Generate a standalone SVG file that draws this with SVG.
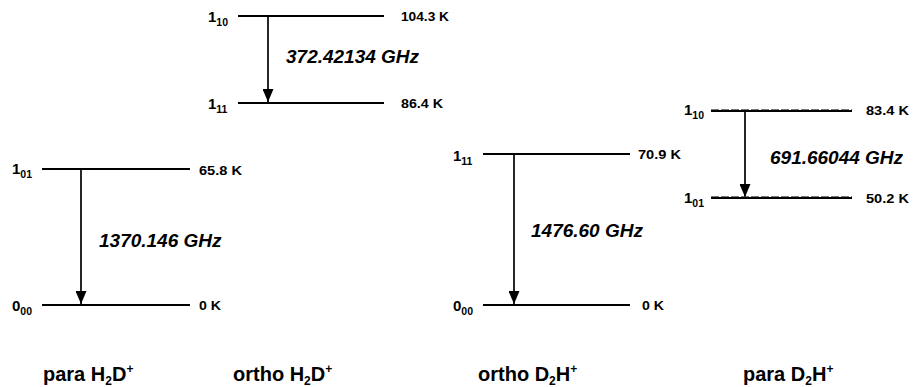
<svg xmlns="http://www.w3.org/2000/svg" width="913" height="387" viewBox="0 0 913 387">
<defs>
<marker id="ah" markerWidth="13" markerHeight="11" refX="13" refY="5.5" orient="auto" markerUnits="userSpaceOnUse" viewBox="0 0 13 11">
<path d="M0,0 L13,5.5 L0,11 Z" fill="#000"/>
</marker>
<style>
.lv{stroke:#000;stroke-width:2;fill:none}
.dl{stroke:#444;stroke-width:0.8;stroke-dasharray:8 2;fill:none}
.ar{stroke:#000;stroke-width:1.7;fill:none;marker-end:url(#ah)}
.t{font-family:"Liberation Sans",Arial,sans-serif;font-weight:bold;fill:#000}
.q{font-size:15px}
.s{font-size:10.5px}
.e{font-size:12px}
.f{font-size:19px;font-style:italic}
.n{font-size:20px}
.sb{font-size:12px}
</style>
</defs>
<rect width="913" height="387" fill="#fff"/>
<g id="connectors">
<line class="ar" x1="268" y1="17" x2="268" y2="102"/>
<line class="ar" x1="81" y1="170" x2="81" y2="304"/>
<line class="ar" x1="514" y1="155" x2="514" y2="304"/>
<line class="ar" x1="745" y1="111" x2="745" y2="197"/>
</g>
<g id="ortho-H2D">
<line class="lv" x1="238" y1="16" x2="384" y2="16"/>
<line class="lv" x1="238" y1="103" x2="384" y2="103"/>
<text class="t q" x="208" y="22">1<tspan class="s" dy="4">10</tspan></text>
<text class="t q" x="208" y="109">1<tspan class="s" dy="4">11</tspan></text>
<text class="t e" x="401" y="21" textLength="48" lengthAdjust="spacingAndGlyphs">104.3 K</text>
<text class="t e" x="401" y="108" textLength="42" lengthAdjust="spacingAndGlyphs">86.4 K</text>
<text class="t f" x="286" y="63">372.42134 GHz</text>
<text class="t n" x="233" y="381">ortho H<tspan class="sb" dy="4">2</tspan><tspan dy="-4">D</tspan><tspan class="sb" dy="-8">+</tspan></text>
</g>
<g id="para-H2D">
<line class="lv" x1="42" y1="169" x2="190" y2="169"/>
<line class="lv" x1="42" y1="305" x2="190" y2="305"/>
<text class="t q" x="12" y="174">1<tspan class="s" dy="4">01</tspan></text>
<text class="t q" x="12" y="311">0<tspan class="s" dy="4">00</tspan></text>
<text class="t e" x="199" y="175" textLength="43" lengthAdjust="spacingAndGlyphs">65.8 K</text>
<text class="t e" x="199" y="310" textLength="22" lengthAdjust="spacingAndGlyphs">0 K</text>
<text class="t f" x="99" y="247">1370.146 GHz</text>
<text class="t n" x="43" y="381">para H<tspan class="sb" dy="4">2</tspan><tspan dy="-4">D</tspan><tspan class="sb" dy="-8">+</tspan></text>
</g>
<g id="ortho-D2H">
<line class="lv" x1="483" y1="154" x2="630" y2="154"/>
<line class="lv" x1="483" y1="305" x2="630" y2="305"/>
<text class="t q" x="453" y="161">1<tspan class="s" dy="4">11</tspan></text>
<text class="t q" x="453" y="311">0<tspan class="s" dy="4">00</tspan></text>
<text class="t e" x="638" y="159" textLength="43" lengthAdjust="spacingAndGlyphs">70.9 K</text>
<text class="t e" x="642" y="310" textLength="22" lengthAdjust="spacingAndGlyphs">0 K</text>
<text class="t f" x="531" y="237">1476.60 GHz</text>
<text class="t n" x="478" y="381">ortho D<tspan class="sb" dy="4">2</tspan><tspan dy="-4">H</tspan><tspan class="sb" dy="-8">+</tspan></text>
</g>
<g id="para-D2H">
<line class="lv" x1="711" y1="111" x2="852" y2="111"/>
<line class="dl" x1="711" y1="109.6" x2="852" y2="109.6"/>
<line class="lv" x1="711" y1="198" x2="852" y2="198"/>
<line class="dl" x1="711" y1="196.6" x2="852" y2="196.6"/>
<text class="t q" x="684" y="115">1<tspan class="s" dy="4">10</tspan></text>
<text class="t q" x="684" y="203">1<tspan class="s" dy="4">01</tspan></text>
<text class="t e" x="866" y="115" textLength="43" lengthAdjust="spacingAndGlyphs">83.4 K</text>
<text class="t e" x="866" y="203" textLength="43" lengthAdjust="spacingAndGlyphs">50.2 K</text>
<text class="t f" x="770" y="164">691.66044 GHz</text>
<text class="t n" x="743" y="381">para D<tspan class="sb" dy="4">2</tspan><tspan dy="-4">H</tspan><tspan class="sb" dy="-8">+</tspan></text>
</g>
</svg>
